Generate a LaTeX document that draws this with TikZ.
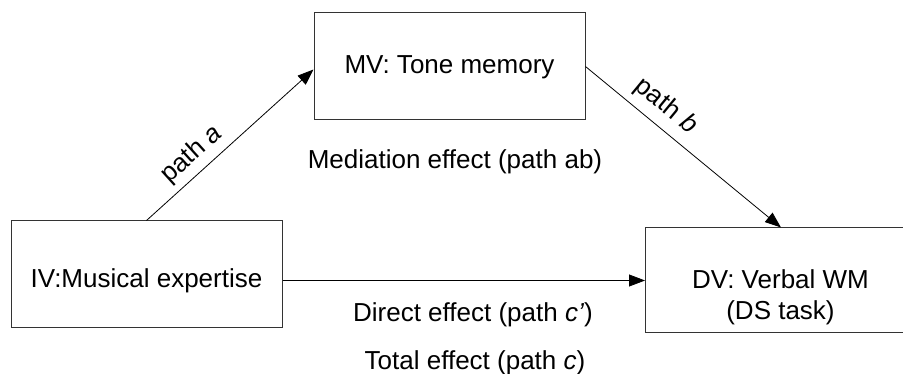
\documentclass[tikz,border=0pt]{standalone}
\usepackage{fontspec}
\setmainfont{Liberation Sans}
\usepackage{tikz}
\usetikzlibrary{
    arrows.meta,
    positioning,
}
\tikzstyle{var}=[draw=black!80,rectangle,line width=1pt,minimum width=271pt,minimum height=107pt,inner sep=0pt]
\tikzstyle{vartext}=[inner sep=0pt,anchor=base]
\tikzstyle{pathlabel}=[sloped,inner sep=0pt,pos=.345]
\tikzset{
    >={Triangle[length=16pt,width=12pt]}
}

\begin{document}
\begin{tikzpicture}[x=1pt,y=-1pt,font=\fontsize{26}{31}\selectfont]
    \useasboundingbox (0,0) rectangle (903,374);

    % Variables
    \node[var] (IV) at (146.5,274.5) {};
    \node[var] (MV) at (449.5,66.5) {};
    \node[var,minimum height=105pt] (DV) at (781,280.5) {};
    \node[vartext] (IV text) at (146.5,288) {IV:Musical expertise};
    \node[vartext] (MV text) at (449.5,74) {MV: Tone memory};
    \node[inner sep=0pt,align=center] (DV text) at (780.5,297) {DV: Verbal WM\\(DS task)};

    % Paths
    \draw[->,line width=.8pt] (IV.north) -- node[pathlabel,above=6pt] {path \textit{a}} ([yshift=-3pt]MV.west);
    \draw[->,line width=.8pt] (MV.east) -- node[pathlabel,above=8pt] {path \textit{b}} (DV.north);
    \draw[->,line width=.8pt] (IV.east |- DV.west) -- (DV.west);

    % Effects
    \node[vartext] (mediation) at (455,169) {Mediation effect (path ab)};
    \node[vartext] (direct) at (473,322) {Direct effect (path \textit{c’})};
    \node[vartext] (total) at (475,369) {Total effect (path \textit{c})};
\end{tikzpicture}
\end{document}
